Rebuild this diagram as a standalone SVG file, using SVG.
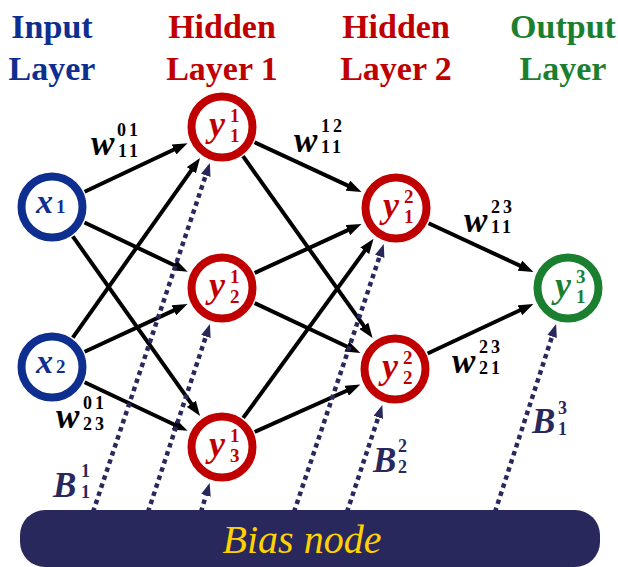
<svg xmlns="http://www.w3.org/2000/svg" width="618" height="567" viewBox="0 0 618 567">
<style>
.blue{fill:#0E2F8F}.red{fill:#C00000}.green{fill:#1A8030}.navy{fill:#29285C}
.ring{fill:#fff;stroke-width:8}
.rb{stroke:#0E2F8F}.rr{stroke:#C00000}.rg{stroke:#1A8030}
.conn{stroke:#000;stroke-width:4;fill:none;marker-end:url(#ah)}
.bias{stroke:#29285C;stroke-width:4.5;stroke-dasharray:4.5 4;fill:none;marker-end:url(#bh)}
</style>
<defs>
<marker id="ah" markerUnits="userSpaceOnUse" markerWidth="15" markerHeight="11" refX="3" refY="5.5" orient="auto">
<path d="M0,0 L15,5.5 L0,11 z" fill="#000"/>
</marker>
<marker id="bh" markerUnits="userSpaceOnUse" markerWidth="13" markerHeight="10" refX="3" refY="5" orient="auto">
<path d="M0,0 L13,5 L0,10 z" fill="#29285C"/>
</marker>
</defs>
<rect width="618" height="567" fill="#fff"/>

<g id="headings" font-family="'Liberation Serif'" font-weight="bold" font-size="34" text-anchor="middle">
<text class="blue" x="52" y="38">Input</text>
<text class="blue" x="52" y="80">Layer</text>
<text class="red" x="222" y="38">Hidden</text>
<text class="red" x="222" y="80">Layer 1</text>
<text class="red" x="396" y="38">Hidden</text>
<text class="red" x="396" y="80">Layer 2</text>
<text class="green" x="563" y="38">Output</text>
<text class="green" x="563" y="80">Layer</text>
</g>

<g id="connectors">
<line class="conn" x1="84.6" y1="191.7" x2="176.7" y2="148.3"/>
<line class="conn" x1="84.5" y1="222.5" x2="176.9" y2="266.5"/>
<line class="conn" x1="72.8" y1="236.4" x2="193.1" y2="406.2"/>
<line class="conn" x1="72.8" y1="337.6" x2="193.1" y2="167.8"/>
<line class="conn" x1="84.6" y1="351.8" x2="176.6" y2="309.1"/>
<line class="conn" x1="84.6" y1="382.3" x2="176.7" y2="425.7"/>
<line class="conn" x1="254.6" y1="142.2" x2="350.6" y2="186.9"/>
<line class="conn" x1="243.0" y1="156.2" x2="365.6" y2="328.3"/>
<line class="conn" x1="254.7" y1="273.0" x2="350.6" y2="228.9"/>
<line class="conn" x1="254.7" y1="303.1" x2="349.5" y2="347.8"/>
<line class="conn" x1="243.2" y1="417.9" x2="366.5" y2="248.4"/>
<line class="conn" x1="254.7" y1="432.0" x2="349.4" y2="389.5"/>
<line class="conn" x1="428.6" y1="223.2" x2="522.6" y2="266.9"/>
<line class="conn" x1="427.6" y1="353.5" x2="522.6" y2="309.0"/>
<line class="bias" x1="93" y1="512" x2="206.7" y2="172.5"/>
<line class="bias" x1="148" y1="512" x2="206.8" y2="333.6"/>
<line class="bias" x1="201" y1="512" x2="206.8" y2="492.5"/>
<line class="bias" x1="294" y1="512" x2="380.6" y2="253.5"/>
<line class="bias" x1="347" y1="512" x2="379.2" y2="414.5"/>
<line class="bias" x1="495" y1="512" x2="553.0" y2="333.6"/>
</g>

<g id="weight-labels" font-family="'Liberation Serif'" font-weight="bold" fill="#000">
<g font-style="italic" font-size="35">
<text x="91" y="155">w</text>
<text x="294" y="152">w</text>
<text x="464" y="232">w</text>
<text x="452" y="373">w</text>
<text x="56" y="428">w</text>
</g>
<g font-size="18" letter-spacing="3">
<text x="117" y="136">01</text><text x="118" y="157">11</text>
<text x="321" y="132">12</text><text x="321" y="153">11</text>
<text x="491" y="213">23</text><text x="491" y="233">11</text>
<text x="479" y="353">23</text><text x="479" y="374">21</text>
<text x="83" y="409">01</text><text x="83" y="430">23</text>
</g>
</g>

<g id="bias-labels" font-family="'Liberation Serif'" font-weight="bold" fill="#29285C">
<g font-style="italic" font-size="35">
<text x="53" y="497">B</text>
<text x="373" y="472">B</text>
<text x="532" y="433">B</text>
</g>
<g font-size="18">
<text x="81" y="477">1</text><text x="81" y="498">1</text>
<text x="398" y="452">2</text><text x="398" y="473">2</text>
<text x="558" y="414">3</text><text x="558" y="435">1</text>
</g>
</g>

<g id="x1" font-family="'Liberation Serif'" font-weight="bold"><circle class="ring rb" cx="52" cy="207" r="30.5"/><text class="blue" font-style="italic" font-size="34" x="36" y="213">x</text><text class="blue" font-size="19" x="56" y="213">1</text></g>
<g id="x2" font-family="'Liberation Serif'" font-weight="bold"><circle class="ring rb" cx="52" cy="367" r="30.5"/><text class="blue" font-style="italic" font-size="34" x="36" y="373">x</text><text class="blue" font-size="19" x="56" y="373">2</text></g>

<g id="h1" font-family="'Liberation Serif'" font-weight="bold"><circle class="ring rr" cx="222" cy="127" r="30.5"/><text class="red" font-style="italic" font-size="36" x="209" y="136">y</text><text class="red" font-size="19" x="230" y="122">1</text><text class="red" font-size="19" x="230" y="142">1</text></g>
<g id="h2" font-family="'Liberation Serif'" font-weight="bold"><circle class="ring rr" cx="222" cy="288" r="30.5"/><text class="red" font-style="italic" font-size="36" x="209" y="297">y</text><text class="red" font-size="19" x="230" y="283">1</text><text class="red" font-size="19" x="230" y="303">2</text></g>
<g id="h3" font-family="'Liberation Serif'" font-weight="bold"><circle class="ring rr" cx="222" cy="447" r="30.5"/><text class="red" font-style="italic" font-size="36" x="209" y="456">y</text><text class="red" font-size="19" x="230" y="442">1</text><text class="red" font-size="19" x="230" y="462">3</text></g>

<g id="g1" font-family="'Liberation Serif'" font-weight="bold"><circle class="ring rr" cx="396" cy="208" r="30.5"/><text class="red" font-style="italic" font-size="36" x="383" y="217">y</text><text class="red" font-size="19" x="404" y="203">2</text><text class="red" font-size="19" x="404" y="223">1</text></g>
<g id="g2" font-family="'Liberation Serif'" font-weight="bold"><circle class="ring rr" cx="395" cy="369" r="30.5"/><text class="red" font-style="italic" font-size="36" x="382" y="378">y</text><text class="red" font-size="19" x="403" y="364">2</text><text class="red" font-size="19" x="403" y="384">2</text></g>

<g id="o1" font-family="'Liberation Serif'" font-weight="bold"><circle class="ring rg" cx="568" cy="288" r="30.5"/><text class="green" font-style="italic" font-size="36" x="555" y="297">y</text><text class="green" font-size="19" x="576" y="283">3</text><text class="green" font-size="19" x="576" y="303">1</text></g>

<g id="bias-node">
<rect x="20" y="510" width="580" height="57" rx="25" fill="#29285C"/>
<text x="302" y="553" font-family="'Liberation Serif'" font-style="italic" font-size="40" fill="#FFD200" text-anchor="middle">Bias node</text>
</g>
</svg>
